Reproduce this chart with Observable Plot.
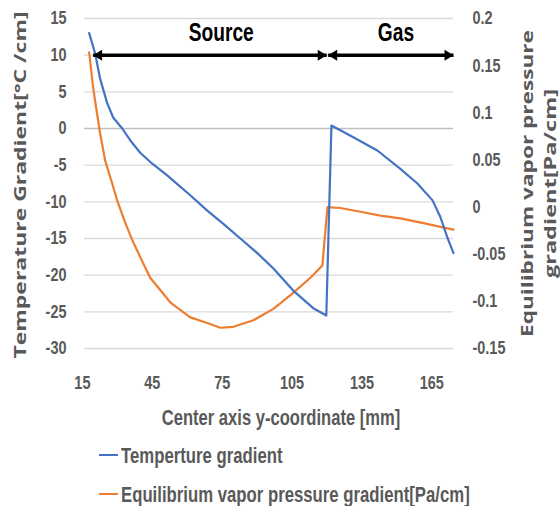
<!DOCTYPE html>
<html>
<head>
<meta charset="utf-8">
<script src="https://cdn.jsdelivr.net/npm/d3@7"></script>
<script src="https://cdn.jsdelivr.net/npm/@observablehq/plot@0.6"></script>
<style>
  body { margin: 0; background: #fff; }
  #wrap { position: relative; width: 560px; height: 506px; overflow: hidden; }
  .legend { position: absolute; left: 99px; top: 435.5px; font-family: 'Liberation Sans', Arial, sans-serif; font-weight: bold; font-size: 19.7px; color: #595959; }
  .legend .row { display: flex; align-items: center; height: 39px; white-space: nowrap; }
  .legend .swatch { width: 19px; height: 2.5px; margin-right: 3px; flex: none; }
  .legend .label { display: inline-block; transform: scale(0.85, 1.1); transform-origin: left center; }
</style>
</head>
<body>
<div id="wrap"></div>
<script>
// Center axis y-coordinate [mm] and temperature gradient [°C/cm]
const tempX = [17.9, 20.5, 22.6, 25.6, 28.2, 32.1, 35.5, 39.8, 45.0, 51.4, 54.0, 61.3, 68.6, 75.9, 82.8, 90.1, 97.0, 105.5, 114.1, 119.7,
               121.9, 131.3, 141.6, 151.5, 158.8, 165.3, 168.7, 171.7, 174.3];
const tempGrad = [13.0, 10.2, 6.8, 3.5, 1.5, 0.0, -1.6, -3.3, -4.8, -6.4, -7.1, -9.1, -11.2, -13.1, -15.0, -17.0, -19.1, -22.1, -24.5, -25.5,
                  0.4, -1.2, -3.0, -5.5, -7.5, -9.8, -12.1, -14.9, -17.0];

// Center axis y-coordinate [mm] and equilibrium vapor pressure gradient [Pa/cm]
const vaporX = [17.9, 19.6, 21.3, 22.6, 24.8, 27.8, 29.9, 33.3, 36.4, 39.8, 44.1, 52.7, 61.3, 68.6, 74.2, 79.8, 88.4, 97.0, 105.5, 112.9, 118.0,
                120.2, 125.7, 134.3, 142.9, 151.5, 161.4, 168.7, 174.3];
const vaporGrad = [0.164, 0.127, 0.099, 0.078, 0.049, 0.025, 0.007, -0.016, -0.035, -0.053, -0.075, -0.101, -0.117, -0.123, -0.128, -0.127, -0.120, -0.108, -0.091, -0.075, -0.062,
                   0.000, -0.001, -0.005, -0.009, -0.012, -0.017, -0.021, -0.024];

// Axis ticks
const xTicks = [15, 45, 75, 105, 135, 165];
const leftTicks = [15, 10, 5, 0, -5, -10, -15, -20, -25, -30];
const rightTicks = [0.2, 0.15, 0.1, 0.05, 0, -0.05, -0.1, -0.15];

// Regions along the axis (mm): arrow spans and label centres
const regionNames = ["Source", "Gas"];
const regionFrom = [19.6, 120.5];
const regionTo = [119.9, 174.3];
const regionLabelX = [74.6, 149.6];
const regionArrowLevel = 10;
const regionLabelLevel = 13;

// Legend entries
const seriesNames = ["Temperture gradient", "Equilibrium vapor pressure gradient[Pa/cm]"];
const seriesColors = ["#4472C4", "#ED7D31"];

const SANS = "'Liberation Sans', Arial, sans-serif";
const TITLE_FONT = "'Open Sans', 'DejaVu Sans', sans-serif";
const AXIS_GRAY = "#595959";

// The right axis (Pa/cm) shares the left axis' pixel span
const toLeft = d3.scaleLinear([-0.15, 0.2], [-30, 15]);

const temp = tempX.map((x, i) => ({x, y: tempGrad[i]}));
const vapor = vaporX.map((x, i) => ({x, y: toLeft(vaporGrad[i])}));
const regions = regionNames.map((name, i) => ({name, from: regionFrom[i], to: regionTo[i], labelX: regionLabelX[i]}));

// Filled arrowhead with its tip on the anchor point, pointing right
const arrowHead = {
  draw(ctx) {
    ctx.moveTo(0, 0);
    ctx.lineTo(-9, -5.5);
    ctx.lineTo(-9, 5.5);
    ctx.closePath();
  }
};

const titleStyle = {rotate: -90, textAnchor: "middle", lineAnchor: "middle", fontSize: 15.7, fontWeight: "bold", fontFamily: TITLE_FONT, fill: AXIS_GRAY};

const chart = Plot.plot({
  width: 560,
  height: 430,
  marginLeft: 84,
  marginRight: 107,
  marginTop: 18,
  marginBottom: 82,
  style: {fontFamily: SANS, background: "white", overflow: "visible"},
  x: {domain: [15.9, 174.3]},
  y: {domain: [-30, 15]},
  marks: [
    Plot.ruleY(leftTicks.filter(d => d !== 0), {stroke: "#d9d9d9", strokeWidth: 1.3}),
    Plot.ruleY([0], {stroke: "#bfbfbf", strokeWidth: 1.6}),
    Plot.axisY(leftTicks, {
      tickSize: 0, tickPadding: 18, label: null,
      tickFormat: d => String(d),
      fontSize: 17, fontWeight: "bold", fill: AXIS_GRAY
    }),
    Plot.axisY(rightTicks.map(toLeft), {
      anchor: "right", tickSize: 0, tickPadding: 19, label: null,
      tickFormat: d => String(+toLeft.invert(d).toFixed(2)),
      fontSize: 17, fontWeight: "bold", fill: AXIS_GRAY
    }),
    Plot.axisX(xTicks, {
      tickSize: 0, tickPadding: 27, label: null,
      fontSize: 17, fontWeight: "bold", fill: AXIS_GRAY
    }),
    Plot.line(vapor, {x: "x", y: "y", stroke: seriesColors[1], strokeWidth: 2.2}),
    Plot.line(temp, {x: "x", y: "y", stroke: seriesColors[0], strokeWidth: 2.2}),
    Plot.link(regions, {x1: "from", x2: "to", y1: regionArrowLevel, y2: regionArrowLevel, stroke: "black", strokeWidth: 3.5}),
    Plot.dot(regions, {x: "to", y: regionArrowLevel, symbol: arrowHead, fill: "black"}),
    Plot.dot(regions, {x: "from", y: regionArrowLevel, symbol: arrowHead, fill: "black", rotate: 180}),
    Plot.text(regions, {x: "labelX", y: regionLabelLevel, text: "name", fontSize: 22.6, fontWeight: "bold", fill: "black"}),
    // Axis titles
    Plot.text(["Temperature Gradient[°C /cm]"], {frameAnchor: "left", dx: -64, dy: 1.5, ...titleStyle}),
    Plot.text(["Equilibrium vapor pressure"], {frameAnchor: "right", dx: 74, ...titleStyle}),
    Plot.text(["gradient[Pa/cm]"], {frameAnchor: "right", dx: 97, ...titleStyle}),
    Plot.text(["Center axis y-coordinate [mm]"], {
      frameAnchor: "bottom", lineAnchor: "middle", dx: 12, dy: 70, fontSize: 19.5, fontWeight: "bold", fill: AXIS_GRAY
    })
  ]
});

// Calibri-like proportions: horizontal labels are condensed and tall,
// the rotated titles are drawn to their full length along the axis
const titleLengths = {
  "Temperature Gradient[°C /cm]": 347,
  "Equilibrium vapor pressure": 307,
  "gradient[Pa/cm]": 189
};
chart.querySelectorAll("text").forEach(t => {
  const tr = t.getAttribute("transform") || "";
  if (tr.includes("rotate")) {
    const len = titleLengths[t.textContent];
    if (len) {
      t.setAttribute("textLength", len);
      t.setAttribute("lengthAdjust", "spacingAndGlyphs");
    }
  } else {
    t.setAttribute("transform", `${tr} scale(0.85,1.1)`);
  }
});

const wrap = document.getElementById("wrap");
wrap.appendChild(chart);

// Legend below the chart
const legend = document.createElement("div");
legend.className = "legend";
seriesNames.forEach((label, i) => {
  const row = document.createElement("div");
  row.className = "row";
  const sw = document.createElement("span");
  sw.className = "swatch";
  sw.style.background = seriesColors[i];
  const tx = document.createElement("span");
  tx.className = "label";
  tx.textContent = label;
  row.appendChild(sw);
  row.appendChild(tx);
  legend.appendChild(row);
});
wrap.appendChild(legend);
</script>
</body>
</html>
